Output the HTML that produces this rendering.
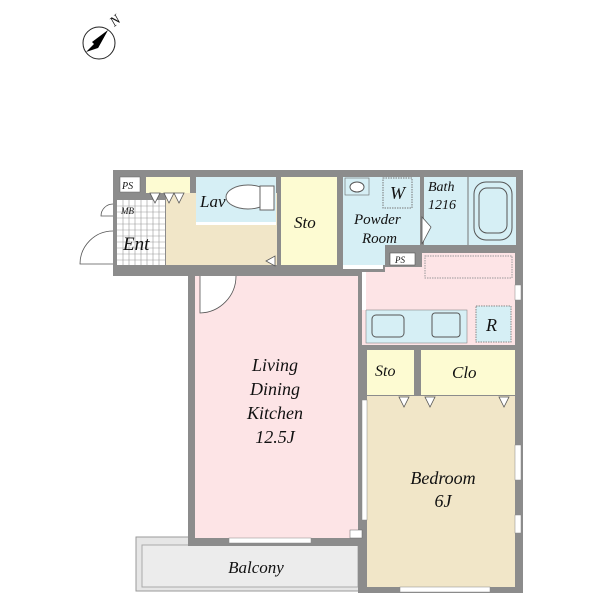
<!DOCTYPE html>
<html><head><meta charset="utf-8"><style>
html,body{margin:0;padding:0;background:#fff;width:600px;height:600px;overflow:hidden}
text{font-family:"Liberation Serif",serif;font-style:italic;fill:#111}
</style></head><body>
<svg width="600" height="600" viewBox="0 0 600 600" xmlns="http://www.w3.org/2000/svg">
<!-- compass -->
<circle cx="99" cy="43" r="16" fill="#fff" stroke="#222" stroke-width="1"/>
<polygon points="108,30 86,52 98,48" fill="#000"/>
<polygon points="108,30 98,48 92,42" fill="#000"/>
<text x="110" y="25" font-size="14" transform="rotate(-40 115 20)">N</text>

<!-- balcony -->
<rect x="136" y="537" width="227" height="54" fill="#e6e6e6" stroke="#999"/>
<rect x="142" y="545" width="216" height="42" fill="#ececec" stroke="#aaa"/>

<!-- walls -->
<rect x="113" y="170" width="410" height="106" fill="#8c8c8c"/>
<rect x="188" y="270" width="176" height="276" fill="#8c8c8c"/>
<rect x="358" y="245" width="165" height="348" fill="#8c8c8c"/>

<!-- rooms -->
<rect x="120" y="177" width="20" height="15" fill="#fff" stroke="#666" stroke-width=".5"/>
<rect x="120" y="203" width="20" height="14" fill="#fff" stroke="#666" stroke-width=".5"/>
<rect x="146" y="177" width="44" height="16" fill="#fdfbd2"/>
<rect x="117" y="200" width="48" height="65" fill="#fff"/>
<g stroke="#999" stroke-width=".6">
<path d="M117 206H165M117 212H165M117 218H165M117 224H165M117 230H165M117 236H165M117 242H165M117 248H165M117 254H165M117 260H165"/>
<path d="M123 200V265M129 200V265M135 200V265M141 200V265M147 200V265M153 200V265M159 200V265"/>
</g>
<rect x="166" y="193" width="111" height="72" fill="#f1e6c8"/>
<rect x="196" y="177" width="80" height="48" fill="#d6eff5"/>
<rect x="196" y="222" width="80" height="3" fill="#fff"/>
<ellipse cx="248" cy="197" rx="22" ry="12" fill="#fff" stroke="#666"/>
<rect x="260" y="186" width="14" height="24" fill="#fff" stroke="#666"/>
<rect x="281" y="177" width="56" height="88" fill="#fdfbd2"/>
<polygon points="343,177 420,177 420,245 385,245 385,265 343,265" fill="#d6eff5"/>
<rect x="345" y="178" width="24" height="17" fill="#d6eff5" stroke="#666" stroke-width=".6"/>
<ellipse cx="357" cy="187" rx="7" ry="5" fill="#fff" stroke="#555"/>
<rect x="383" y="178" width="29" height="30" fill="none" stroke="#777" stroke-dasharray="1.5,1"/>
<rect x="424" y="177" width="92" height="68" fill="#d6eff5"/>
<line x1="468" y1="177" x2="468" y2="245" stroke="#777"/>
<rect x="474" y="182" width="38" height="58" rx="12" fill="none" stroke="#555"/>
<rect x="479" y="188" width="28" height="45" rx="8" fill="none" stroke="#555"/>
<path d="M422 217 L431 227 L422 244 Z" fill="#fff" stroke="#555" stroke-width=".8"/>
<rect x="390" y="253" width="25" height="12" fill="#fff" stroke="#555" stroke-width=".6"/>
<polygon points="422,253 515,253 515,345 362,345 362,272 385,272 385,267 422,267" fill="#fde4e6"/>
<rect x="422" y="253" width="93" height="14" fill="#fde4e6"/>
<rect x="425" y="256" width="87" height="22" fill="none" stroke="#999" stroke-dasharray="1.5,1"/>
<rect x="366" y="310" width="101" height="33" fill="#d6eff5" stroke="#888" stroke-width=".6"/>
<rect x="372" y="315" width="32" height="22" rx="4" fill="none" stroke="#555"/>
<rect x="432" y="313" width="28" height="24" rx="3" fill="none" stroke="#555"/>
<rect x="476" y="306" width="35" height="36" fill="#d6eff5" stroke="#888" stroke-dasharray="1.5,1"/>
<rect x="367" y="350" width="47" height="45" fill="#fdfbd2"/>
<rect x="421" y="350" width="94" height="45" fill="#fdfbd2"/>
<rect x="367" y="396" width="148" height="191" fill="#f1e6c8"/>
<rect x="195" y="276" width="163" height="262" fill="#fde4e6"/>
<rect x="350" y="530" width="12" height="8" fill="#fff" stroke="#666" stroke-width=".5"/>
<!-- windows -->
<rect x="229" y="538" width="82" height="5" fill="#fff" stroke="#888" stroke-width=".5"/>
<rect x="362" y="400" width="5" height="120" fill="#fff" stroke="#888" stroke-width=".5"/>
<rect x="515" y="445" width="6" height="35" fill="#fff" stroke="#888" stroke-width=".5"/>
<rect x="515" y="515" width="6" height="18" fill="#fff" stroke="#888" stroke-width=".5"/>
<rect x="515" y="285" width="6" height="15" fill="#fff" stroke="#888" stroke-width=".5"/>
<rect x="400" y="587" width="90" height="5" fill="#fff" stroke="#888" stroke-width=".5"/>
<rect x="362" y="272" width="4" height="38" fill="#fff"/>
<rect x="343" y="265" width="40" height="4" fill="#fff"/>
<!-- doors -->
<path d="M200 276 V313 A37 37 0 0 0 236 276" fill="#fff" stroke="#555" stroke-width=".8"/>
<path d="M113 231 A33 33 0 0 0 80 264 H113" fill="#fff" stroke="#555" stroke-width=".8"/>
<path d="M113 204 A12 12 0 0 0 101 216 H113" fill="#fff" stroke="#555" stroke-width=".8"/>
<g fill="#fff" stroke="#555" stroke-width=".8">
<polygon points="150,193 160,193 155,203"/><polygon points="164,193 174,193 169,203"/><polygon points="174,193 184,193 179,203"/>
<polygon points="275,256 275,266 266,261"/>
<polygon points="399,397 409,397 404,407"/><polygon points="425,397 435,397 430,407"/><polygon points="499,397 509,397 504,407"/>
</g>
<!-- labels -->
<text x="122" y="189" font-size="10">PS</text>
<text x="121" y="214" font-size="9">MB</text>
<text x="123" y="250" font-size="19">Ent</text>
<text x="200" y="207" font-size="17">Lav</text>
<text x="294" y="228" font-size="17">Sto</text>
<text x="390" y="199" font-size="18">W</text>
<text x="354" y="224" font-size="15">Powder</text>
<text x="362" y="243" font-size="15">Room</text>
<text x="428" y="191" font-size="14">Bath</text>
<text x="428" y="209" font-size="14">1216</text>
<text x="395" y="263" font-size="9">PS</text>
<text x="486" y="331" font-size="18">R</text>
<text x="375" y="376" font-size="16">Sto</text>
<text x="452" y="378" font-size="17">Clo</text>
<text x="275" y="371" font-size="18" text-anchor="middle">Living</text>
<text x="275" y="395" font-size="18" text-anchor="middle">Dining</text>
<text x="275" y="419" font-size="18" text-anchor="middle">Kitchen</text>
<text x="275" y="443" font-size="18" text-anchor="middle">12.5J</text>
<text x="443" y="484" font-size="18" text-anchor="middle">Bedroom</text>
<text x="443" y="507" font-size="18" text-anchor="middle">6J</text>
<text x="256" y="573" font-size="17" text-anchor="middle">Balcony</text>
</svg>
</body></html>
